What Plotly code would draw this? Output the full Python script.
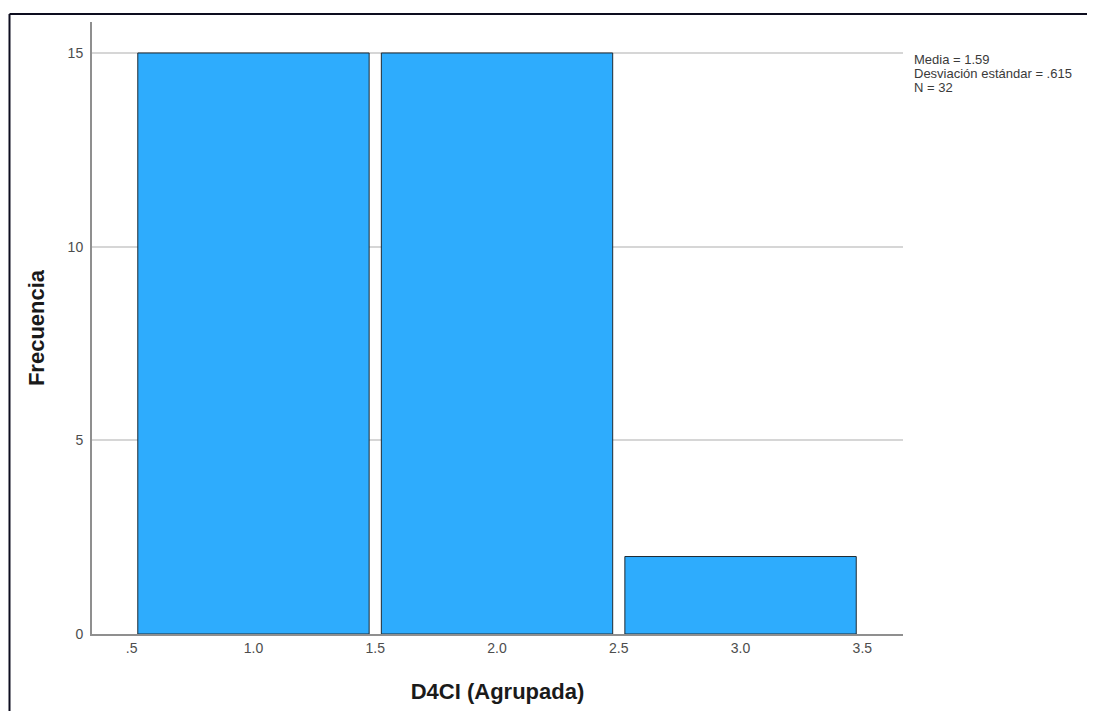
import plotly.graph_objects as go

# Data
categories = [1, 2, 3]
frequencies = [15, 15, 2]
x_tickvals = [0.5, 1.0, 1.5, 2.0, 2.5, 3.0, 3.5]
x_ticktext = [".5", "1.0", "1.5", "2.0", "2.5", "3.0", "3.5"]
y_tickvals = [0, 5, 10, 15]
stats_lines = ["Media = 1.59", "Desviación estándar = .615", "N = 32"]

# page body has an 8px margin, so figure coords = screen coords - 8
OFF = 8
W, H = 1095 - OFF, 711 - OFF
L, T = 92 - OFF, 22 - OFF
pw, ph = 811, 612
R = W - L - pw
B = H - T - ph

def px_x(px):
    return (px - OFF - L) / pw

def px_y(py):
    return (T + ph - (py - OFF)) / ph

fig = go.Figure()
fig.add_trace(go.Bar(
    x=categories, y=frequencies, width=0.95,
    marker=dict(color="#2eacfd", line=dict(color="#1f2a33", width=1)),
    hoverinfo="x+y",
))

font_family = "Liberation Sans, Arial, sans-serif"

annotations = []
stat_y = [59, 73.5, 88]
for line, yy in zip(stats_lines, stat_y):
    annotations.append(dict(
        text=line, xref="paper", yref="paper", x=px_x(912), y=px_y(yy),
        xanchor="left", yanchor="middle", showarrow=False,
        font=dict(family=font_family, size=13, color="#3a3a3a"),
    ))

shapes = [
    dict(type="line", xref="paper", yref="paper",
         x0=px_x(9.5), x1=px_x(1100), y0=px_y(14), y1=px_y(14),
         line=dict(color="#0d0d1f", width=2)),
    dict(type="line", xref="paper", yref="paper",
         x0=px_x(9.5), x1=px_x(9.5), y0=px_y(14), y1=px_y(720),
         line=dict(color="#0d0d1f", width=2)),
]

fig.update_layout(
    width=W, height=H,
    margin=dict(l=L, r=R, t=T, b=B, autoexpand=False),
    paper_bgcolor="white", plot_bgcolor="white",
    showlegend=False,
    font=dict(family=font_family),
    annotations=annotations,
    shapes=shapes,
    xaxis=dict(
        range=[0.337, 3.667], tickvals=x_tickvals, ticktext=x_ticktext,
        showgrid=False, zeroline=False, showline=True,
        linecolor="#8f8f8f", linewidth=2, ticks="",
        tickfont=dict(size=14, color="#4d4d4d"),
        title=dict(text="<b>D4CI (Agrupada)</b>", standoff=29,
                   font=dict(size=22, color="#1a1a1a")),
    ),
    yaxis=dict(
        range=[0, 15.8], tickvals=y_tickvals,
        showgrid=True, gridcolor="#d6d6d6", gridwidth=1.5,
        zeroline=False, showline=True,
        linecolor="#8f8f8f", linewidth=2, ticks="",
        tickfont=dict(size=14, color="#4d4d4d"),
        ticklabelstandoff=4,
        title=dict(text="<b>Frecuencia</b>", standoff=17,
                   font=dict(size=22, color="#1a1a1a")),
    ),
)

fig.write_html("out.html")
